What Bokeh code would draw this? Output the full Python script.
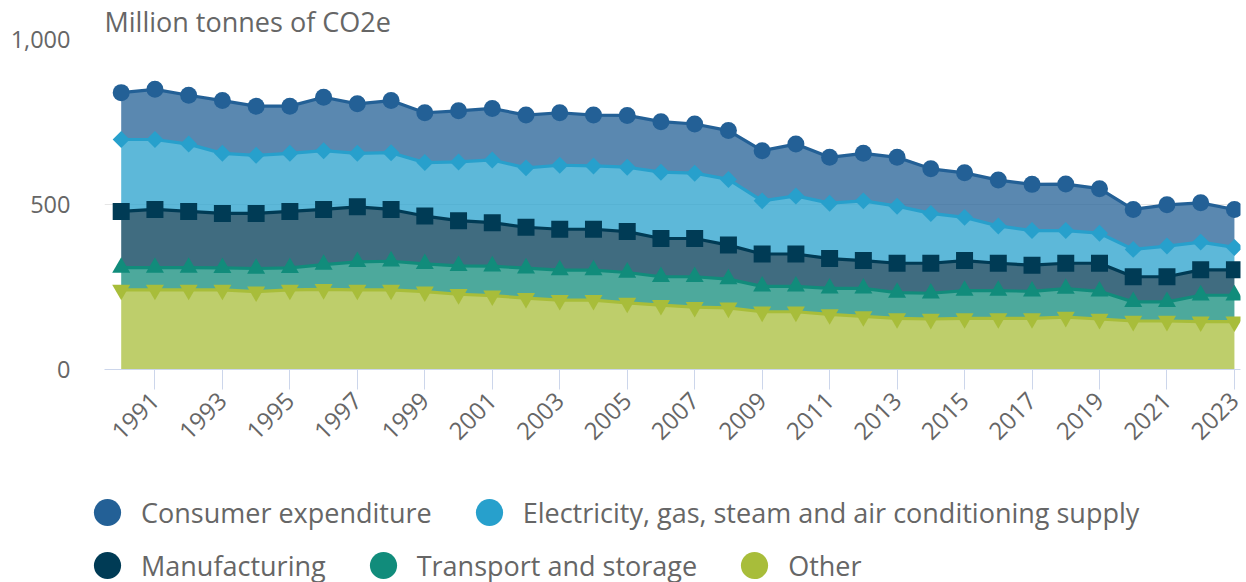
import math
from bokeh.plotting import figure
from bokeh.layouts import column
from bokeh.models import (ColumnDataSource, Range1d, FixedTicker, NumeralTickFormatter,
                          Legend, LegendItem)
from bokeh.transform import stack
from bokeh.embed import file_html
from bokeh.resources import INLINE

years = list(range(1990, 2024))
consumer = [142, 152, 148, 160, 149, 143, 162, 150, 158, 151, 155, 156, 160, 159, 154, 157, 153,
            149, 148, 152, 157, 139, 144, 148, 135, 135, 139, 140, 141, 135, 121, 125, 119, 115]
electricity = [218, 212, 204, 182, 176, 176, 178, 162, 172, 162, 178, 190, 180, 194, 192, 195, 201,
               198, 199, 161, 176, 168, 181, 173, 151, 131, 113, 105, 99, 91, 83, 93, 84, 68]
manufacturing = [170, 176, 170, 165, 167, 171, 167, 167, 157, 145, 137, 132, 124, 124, 124, 124, 116,
                 116, 103, 98, 98, 90, 84, 89, 91, 91, 83, 79, 77, 85, 76, 76, 77, 77]
transport = [68, 68, 68, 67, 70, 67, 75, 85, 87, 84, 86, 89, 91, 91, 91, 92, 86,
             92, 87, 77, 77, 79, 85, 78, 78, 84, 84, 82, 86, 84, 58, 58, 80, 80]
other = [241, 241, 241, 241, 236, 241, 243, 241, 241, 236, 228, 224, 216, 210, 210, 202, 195,
         189, 187, 175, 175, 167, 161, 155, 153, 155, 155, 155, 159, 153, 147, 147, 145, 145]

names = ["Consumer expenditure", "Electricity, gas, steam and air conditioning supply",
         "Manufacturing", "Transport and storage", "Other"]
x_ticks = list(range(1991, 2024, 2))
y_ticks = [0, 500, 1000]

src = ColumnDataSource(dict(year=years, other=other, transport=transport,
                            manufacturing=manufacturing, electricity=electricity,
                            consumer=consumer))

keys = ["other", "transport", "manufacturing", "electricity", "consumer"]
colors = {"consumer": "#236096", "electricity": "#27a0cc", "manufacturing": "#003b55",
          "transport": "#118c7b", "other": "#a8bd3a"}
markers = {"consumer": ("circle", 17, 0.0), "electricity": ("square", 12, math.pi / 4),
           "manufacturing": ("square", 17, 0.0), "transport": ("triangle", 18, 0.0),
           "other": ("inverted_triangle", 18, 0.0)}

FONT = "Open Sans"
GREY = "#666666"
x0, x1 = 1989.505, 2023.18

p = figure(width=1246, height=470, x_range=Range1d(x0, x1), y_range=Range1d(0, 1000),
           output_backend="svg", toolbar_location=None, tools="",
           min_border_left=104, min_border_right=6, min_border_top=39, min_border_bottom=101)
p.frame_align = False
p.outline_line_color = None
p.background_fill_color = "white"

# title (y-axis unit)
p.title.text = "Million tonnes of CO2e"
p.title.align = "left"
p.title.offset = 0
p.title.standoff = 0
p.title.text_font = FONT
p.title.text_font_size = "27px"
p.title.text_font_style = "normal"
p.title.text_color = GREY

# grid
p.xgrid.visible = False
p.ygrid.ticker = FixedTicker(ticks=y_ticks)
p.ygrid.grid_line_color = "#e6e6e6"
p.ygrid.grid_line_width = 1

# axes
xa = p.xaxis[0]
xa.ticker = FixedTicker(ticks=x_ticks)
xa.axis_line_color = "#ccd6eb"
xa.major_tick_line_color = "#ccd6eb"
xa.major_tick_out = 20
xa.major_tick_in = 0
xa.minor_tick_line_color = None
xa.major_label_orientation = math.pi / 4
xa.major_label_standoff = 7
xa.major_label_text_font = FONT
xa.major_label_text_font_size = "24px"
xa.major_label_text_color = GREY

ya = p.yaxis[0]
ya.ticker = FixedTicker(ticks=y_ticks)
ya.formatter = NumeralTickFormatter(format="0,0")
ya.axis_line_color = None
ya.major_tick_line_color = None
ya.minor_tick_line_color = None
ya.major_tick_out = 0
ya.major_label_standoff = 34
ya.major_label_text_font = FONT
ya.major_label_text_font_size = "23.5px"
ya.major_label_text_color = GREY

# stacked areas
for i, k in enumerate(keys):
    lower = stack(*keys[:i]) if i > 0 else 0
    p.varea(x="year", y1=lower, y2=stack(*keys[:i + 1]), source=src,
            fill_color=colors[k], fill_alpha=0.75)

for i, k in enumerate(keys):
    p.line(x="year", y=stack(*keys[:i + 1]), source=src, line_color=colors[k], line_width=3.2)

for i, k in enumerate(keys):
    m, s, a = markers[k]
    p.scatter(x="year", y=stack(*keys[:i + 1]), source=src, marker=m, size=s, angle=a,
              fill_color=colors[k], line_color=None)

# legend figure
lg_h = 112
q = figure(width=1246, height=lg_h, x_range=Range1d(0, 1), y_range=Range1d(0, 1),
           output_backend="svg", toolbar_location=None, tools="",
           x_axis_location=None, y_axis_location=None, min_border=0)
q.frame_align = False
q.outline_line_color = None
q.xgrid.visible = False
q.ygrid.visible = False

order = ["consumer", "electricity", "manufacturing", "transport", "other"]
items = {}
nan = float("nan")
for k, n in zip(order, names):
    r = q.scatter(x=[nan], y=[nan], marker="circle", size=10, fill_color=colors[k],
                  line_color=None)
    items[k] = LegendItem(label=n, renderers=[r])


def make_legend(its, vy):
    return Legend(items=its, orientation="horizontal", location=(73, vy),
                  glyph_width=68, glyph_height=68, label_standoff=0, spacing=23,
                  padding=0, margin=0, border_line_alpha=0, background_fill_alpha=0,
                  label_text_font=FONT, label_text_font_size="27px", label_text_color=GREY,
                  label_height=30)


q.add_layout(make_legend([items["consumer"], items["electricity"]], 36))
q.add_layout(make_legend([items["manufacturing"], items["transport"], items["other"]], -17))

layout = column(p, q, spacing=0)
open("out.html", "w").write(file_html(layout, INLINE))
